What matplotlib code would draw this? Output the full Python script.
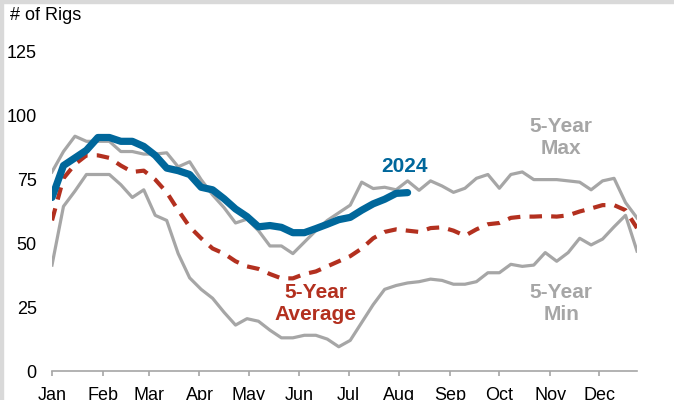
import numpy as np
import matplotlib
matplotlib.use('Agg')
import matplotlib.pyplot as plt
from matplotlib.patches import Rectangle

plt.rcParams['font.family'] = ['Liberation Sans', 'DejaVu Sans']

# weekly rig counts (week 1..52)
max_5yr = [78, 86, 92, 90, 90, 90, 86, 86, 85, 85, 85.5, 80, 82, 75,
           69, 64, 58, 59.5, 55, 49, 49, 46, 50.5, 55, 59, 62, 65,
           74, 71.5, 72, 71, 74.5, 70.8, 74.5, 72.5, 70, 71.6, 75.5, 77, 71.6,
           77, 78, 75, 75, 75, 74.5, 74, 71, 74.5, 75.5, 66, 60]
min_5yr = [41.5, 64.5, 70.5, 77, 77, 77, 73, 68, 71, 61, 59, 46, 36.5, 32,
           28.5, 23, 18, 20.5, 19.5, 16, 13, 13, 14, 14, 12.5, 9.5, 12,
           19, 26, 32, 33.5, 34.5, 35, 36, 35.5, 34, 34, 35, 38.5, 38.5,
           41.8, 41, 41.5, 46.4, 43, 46.4, 52, 49.4, 51.7, 56.5, 61, 47]
avg_5yr = [59, 75.5, 81, 84.5, 84.5, 83.5, 80.5, 78, 78.5, 75, 70, 63, 56.5, 52,
           48, 46, 43, 41, 40, 38, 36.3, 36.3, 38, 39, 41, 43, 45,
           48, 52, 54.5, 55.5, 55, 54.5, 56, 56.3, 55, 53, 55.5, 57.5, 58,
           60, 60.5, 60.5, 60.7, 60.5, 61, 62.5, 63.7, 65, 65, 63, 56]
y2024 = [68, 80.5, 83.5, 86.5, 91.5, 91.5, 90, 90, 88, 84.5, 79.5, 78.5, 77, 72,
         71, 67.5, 63.5, 60.5, 56.5, 57, 56.3, 54.2, 54.2, 55.8, 57.5, 59.3, 60.2,
         63, 65.5, 67.3, 69.6, 69.9]

months = ['Jan', 'Feb', 'Mar', 'Apr', 'May', 'Jun',
          'Jul', 'Aug', 'Sep', 'Oct', 'Nov', 'Dec']
month_start_day = [0, 31, 59, 90, 120, 151, 181, 212, 243, 273, 304, 334]

gray = '#a6a6a6'
red = '#b3301f'
blue = '#00679b'

fig = plt.figure(figsize=(6.74, 4.0), dpi=100)
ax = fig.add_axes([52/674, 29/400, 585/674, 319/400])

weeks = np.arange(len(max_5yr))
ax.plot(weeks, max_5yr, color=gray, lw=2.3, zorder=2)
ax.plot(weeks, min_5yr, color=gray, lw=2.3, zorder=2)
ax.plot(weeks, avg_5yr, color=red, lw=3.0, ls=(0, (3, 2.2)), zorder=3)
ax.plot(np.arange(len(y2024)), y2024, color=blue, lw=5.2,
        solid_capstyle='round', solid_joinstyle='round', zorder=4)

ax.set_xlim(0, 51)
ax.set_ylim(0, 125)
ax.set_yticks([0, 25, 50, 75, 100, 125])
ax.set_xticks(np.array(month_start_day) / 7)
ax.set_xticklabels(months)

for s in ['left', 'right', 'top']:
    ax.spines[s].set_visible(False)
ax.spines['bottom'].set_color(gray)
ax.spines['bottom'].set_linewidth(1.2)
ax.tick_params(axis='y', length=0, pad=11, labelsize=13)
ax.tick_params(axis='x', length=3.5, width=1.2, color=gray, pad=8, labelsize=13)

bold = dict(fontsize=15, fontweight='bold', ha='center', va='center')
ax.text(30.7, 80, '2024', color=blue, **bold)
ax.text(44.4, 91.5, '5-Year\nMax', color=gray, **bold)
ax.text(44.4, 26.6, '5-Year\nMin', color=gray, **bold)
ax.text(23.0, 26.4, '5-Year\nAverage', color=red, **bold)

fig.text(10/674, 1 - 16/400, '# of Rigs', fontsize=13, va='center', ha='left')

# light frame on the left and top edges
fig.patches.append(Rectangle((0, 0), 3/674, 1, transform=fig.transFigure,
                             color='#d9d9d9', zorder=0))
fig.patches.append(Rectangle((0, 1 - 3/400), 1, 3/400, transform=fig.transFigure,
                             color='#d9d9d9', zorder=0))

fig.savefig('out.png', dpi=100)
